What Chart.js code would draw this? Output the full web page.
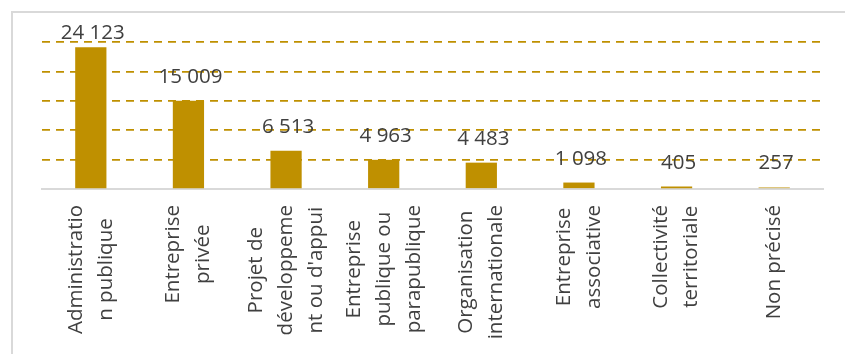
<!DOCTYPE html>
<html>
<head>
<meta charset="utf-8">
<script src="https://cdn.jsdelivr.net/npm/chart.js@4.4.0/dist/chart.umd.min.js"></script>
<style>
  html, body { margin: 0; padding: 0; background: #fff; }
  #wrap { position: relative; width: 845px; height: 354px; overflow: hidden; }
  #frame { position: absolute; left: 11px; top: 11px; width: 900px; height: 400px;
           border-top: 2px solid #D9D9D9; border-left: 2px solid #D9D9D9; }
  #myChart { position: absolute; left: 0; top: 0; }
</style>
</head>
<body>
<div id="wrap">
  <div id="frame"></div>
  <canvas id="myChart" width="845" height="354"></canvas>
</div>
<script>
// Data.
const categories = [
  ["Administratio", "n publique"],
  ["Entreprise", "privée"],
  ["Projet de", "développeme", "nt ou d'appui"],
  ["Entreprise", "publique ou", "parapublique"],
  ["Organisation", "internationale"],
  ["Entreprise", "associative"],
  ["Collectivité", "territoriale"],
  ["Non précisé"]
];
const effectifs = [24123, 15009, 6513, 4963, 4483, 1098, 405, 257];
const yTicks = [0, 5000, 10000, 15000, 20000, 25000];

const GOLD = "#BF9000";
const TEXT = "#404040";
const FONT = '20.5px "Open Sans"';

function formatFr(v) {
  return String(v).replace(/\B(?=(\d{3})+(?!\d))/g, " ");
}

// value labels above bars + rotated category labels under the axis
const labelPlugin = {
  id: "etiquettes",
  afterDatasetsDraw(chart) {
    const ctx = chart.ctx;
    const meta = chart.getDatasetMeta(0);
    const xScale = chart.scales.x;
    ctx.save();
    ctx.fillStyle = TEXT;
    ctx.font = FONT;
    ctx.textAlign = "center";

    ctx.textBaseline = "alphabetic";
    meta.data.forEach((bar, i) => {
      const y = Math.max(bar.y - 18, chart.chartArea.top - 3);
      ctx.fillText(formatFr(effectifs[i]), bar.x + 2, y);
    });

    ctx.textBaseline = "middle";
    categories.forEach((lines, i) => {
      const x = xScale.getPixelForTick(i);
      const widest = Math.max(...lines.map(l => ctx.measureText(l).width));
      const cy = xScale.top + 16 + widest / 2;
      lines.forEach((line, j) => {
        const lx = x + (j - (lines.length - 1) / 2) * 30;
        ctx.save();
        ctx.translate(lx, cy);
        ctx.rotate(-Math.PI / 2);
        ctx.fillText(line, 0, 0);
        ctx.restore();
      });
    });
    ctx.restore();
  }
};

new Chart(document.getElementById("myChart"), {
  type: "bar",
  data: {
    labels: categories,
    datasets: [{
      data: effectifs,
      backgroundColor: GOLD,
      categoryPercentage: 1,
      barPercentage: 0.32
    }]
  },
  options: {
    responsive: false,
    animation: false,
    layout: { padding: { left: 42, right: 22, top: 42, bottom: 0 } },
    plugins: { legend: { display: false }, tooltip: { enabled: false } },
    scales: {
      x: {
        grid: { display: false },
        border: { display: true, color: "#D9D9D9", width: 2 },
        ticks: { display: false },
        afterFit(scale) { scale.height = 165; }
      },
      y: {
        min: yTicks[0],
        max: yTicks[yTicks.length - 1],
        afterBuildTicks(scale) { scale.ticks = yTicks.map(v => ({ value: v })); },
        ticks: { display: false },
        grid: {
          color: ctx => (ctx.tick && ctx.tick.value === 0 ? "rgba(0,0,0,0)" : GOLD),
          lineWidth: 1.75,
          drawTicks: false
        },
        border: { display: false, dash: [8, 6] },
        afterFit(scale) { scale.width = 0; }
      }
    }
  },
  plugins: [labelPlugin]
});
</script>
</body>
</html>
